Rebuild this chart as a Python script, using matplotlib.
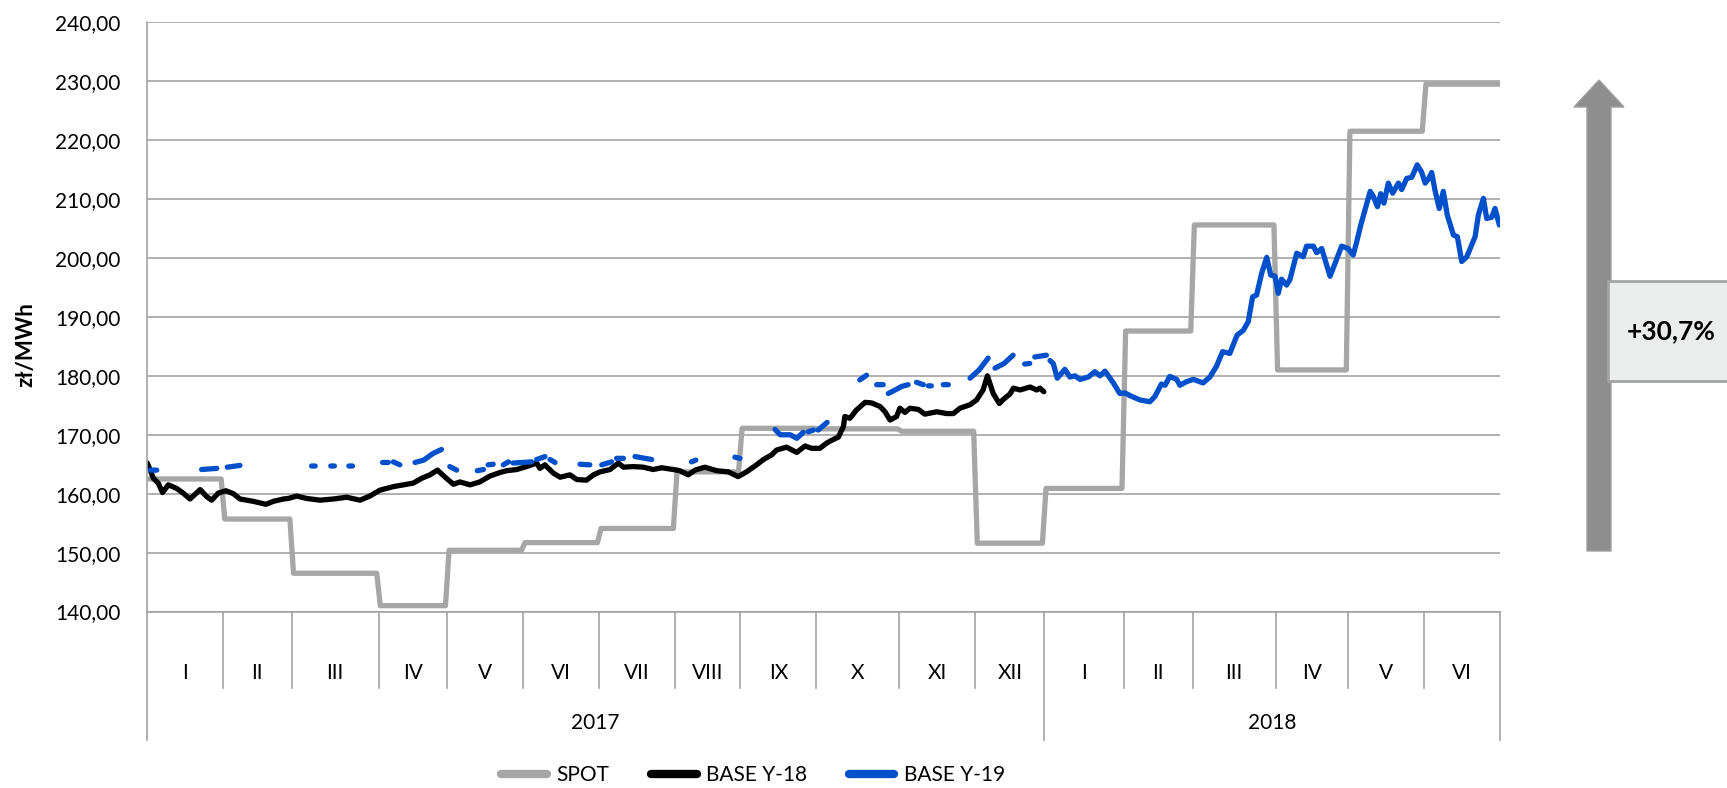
import matplotlib
matplotlib.use('Agg')
import matplotlib.pyplot as plt
import matplotlib.transforms as mtransforms
from matplotlib.patches import Polygon, Rectangle
from matplotlib.lines import Line2D
import numpy as np

plt.rcParams['font.family'] = ['Lato', 'DejaVu Sans']

# oś X: miesiące (dni notowań w miesiącu)
month_labels = ['I', 'II', 'III', 'IV', 'V', 'VI', 'VII', 'VIII', 'IX', 'X', 'XI', 'XII',
                'I', 'II', 'III', 'IV', 'V', 'VI']
days_per_month = [21, 19, 24, 19, 21, 21, 21, 18, 21, 23, 21, 19, 22, 19, 23, 20, 21, 21]
years = ['2017', '2018']
months_per_year = [12, 6]

# SPOT - średnia miesięczna
spot_monthly = [162.5, 155.7, 146.5, 141.0, 150.4, 151.7, 154.1, 163.7, 171.1, 171.0,
                170.6, 151.6, 160.9, 187.6, 205.6, 181.0, 221.5, 229.5]

# BASE Y-18 (dzień notowań, cena)
y18_x = [0.1, 1.8, 3.1, 4.3, 5.9, 8.2, 10.0, 11.9, 14.7, 16.5, 17.9, 19.7, 21.8, 23.9, 25.7,
         29.4, 32.9, 34.9, 37.7, 39.1, 41.4, 44.1, 47.8, 51.5, 55.2, 58.9, 61.6, 64.4, 68.1,
         70.9, 73.6, 75.9, 78.2, 80.3, 82.4, 84.7, 86.5, 89.3, 92.0, 94.8, 97.6, 99.4, 102.2,
         104.9, 107.7, 108.6, 110.0, 112.3, 114.2, 116.9, 118.8, 121.5, 123.4, 125.2, 128.0,
         130.3, 131.7, 134.4, 137.2, 139.9, 142.3, 145.5, 147.3, 149.6, 151.5, 154.2, 157.5,
         160.7, 163.4, 165.7, 168.5, 170.4, 172.7, 174.0, 176.8, 179.6, 181.9, 183.7, 186.0,
         187.9, 189.7, 191.1, 192.5, 192.9, 194.3, 196.1, 198.5, 200.3, 202.6, 204.0, 205.4,
         207.2, 208.1, 209.5, 210.9, 213.2, 215.0, 218.3, 221.0, 222.9, 224.7, 227.5, 229.3,
         231.1, 232.3, 233.9, 235.6, 236.7, 238.5, 239.5, 241.3, 244.1, 245.9, 246.8, 247.9]
y18_v = [165.2, 162.6, 161.8, 160.2, 161.5, 160.9, 160.1, 159.1, 160.7, 159.5, 158.9, 160.1,
         160.5, 160.0, 159.1, 158.7, 158.2, 158.7, 159.1, 159.2, 159.6, 159.2, 158.9, 159.1,
         159.4, 158.9, 159.6, 160.6, 161.2, 161.5, 161.8, 162.6, 163.2, 164.0, 162.8, 161.6,
         162.0, 161.5, 162.0, 163.0, 163.6, 163.9, 164.1, 164.6, 165.2, 164.3, 164.9, 163.5,
         162.8, 163.2, 162.4, 162.3, 163.2, 163.7, 164.1, 165.2, 164.5, 164.6, 164.5, 164.1,
         164.4, 164.1, 163.9, 163.2, 164.0, 164.5, 163.9, 163.7, 162.9, 163.7, 164.9, 165.8,
         166.6, 167.4, 167.9, 167.0, 168.1, 167.7, 167.7, 168.6, 169.2, 169.6, 171.4, 173.1,
         172.8, 174.2, 175.5, 175.4, 174.8, 173.9, 172.5, 173.1, 174.5, 173.8, 174.5, 174.3,
         173.5, 173.9, 173.6, 173.6, 174.5, 175.1, 175.9, 177.6, 180.0, 177.0, 175.3, 176.0,
         176.9, 177.9, 177.6, 178.1, 177.6, 177.9, 177.3]

# BASE Y-19 w 2017 - notowania z przerwami (nan = brak notowań)
nan = np.nan
y19_2017_x = [0.9, 2.7, nan, 15.1, 19.3, nan, 22.2, 25.7, nan, 45.5, 46.5, nan, 50.8, 51.8, nan,
              55.8, 56.8, nan, 65.1, 66.7, nan, 68.1, 69.9, nan, 74.1, 76.5, 79.0, 81.4, nan,
              83.7, 85.6, nan, 91.3, 93.0, nan, 94.3, 95.7, nan, 98.5, 99.9, nan, 101.2, 106.3,
              nan, 107.7, 110.0, nan, 111.4, 112.8, nan, 119.7, 122.4, nan, 125.7, 128.4, nan,
              129.8, 131.7, nan, 134.9, 139.5, nan, 150.5, 151.7, nan, 162.5, 163.9, nan, 173.6,
              175.0, 177.8, 179.6, 181.4, nan, 182.8, 184.2, nan, 185.5, 188.0, nan, 197.0, 198.9,
              nan, 201.7, 203.5, nan, 204.9, 206.8, 208.6, 210.4, nan, 212.7, 214.6, nan, 216.0,
              216.8, nan, 220.1, 221.5, nan, 227.5, 230.0, 232.5, nan, 234.4, 236.9, 239.4, nan,
              242.6, 244.0, nan, 245.4, 248.6]
y19_2017_v = [164.0, 164.0, nan, 164.1, 164.3, nan, 164.5, 164.8, nan, 164.7, 164.7, nan, 164.7,
              164.7, nan, 164.7, 164.7, nan, 165.3, 165.3, nan, 165.4, 164.9, nan, 165.3, 165.7,
              166.8, 167.5, nan, 164.6, 164.0, nan, 163.9, 164.1, nan, 164.9, 165.0, nan, 164.9,
              165.4, nan, 165.2, 165.4, nan, 165.8, 166.3, nan, 165.8, 165.3, nan, 165.0, 164.9,
              nan, 164.9, 165.4, nan, 166.0, 166.0, nan, 166.3, 165.8, nan, 165.4, 165.7, nan,
              166.2, 166.0, nan, 170.9, 170.0, 170.0, 169.4, 170.4, nan, 170.5, 170.8, nan, 170.8,
              172.1, nan, 179.3, 180.1, nan, 178.5, 178.5, nan, 177.0, 177.6, 178.2, 178.5, nan,
              178.9, 178.5, nan, 178.3, 178.3, nan, 178.5, 178.5, nan, 179.6, 181.0, 183.0, nan,
              181.3, 182.1, 183.5, nan, 182.0, 182.1, nan, 183.2, 183.5]

# BASE Y-19 w 2018 - notowania ciągłe
y19_2018_x = [249.6, 250.5, 251.6, 253.7, 255.1, 256.5, 257.9, 260.2, 262.0, 263.4, 264.8, 267.1,
              268.9, 270.3, 272.2, 274.5, 277.2, 278.6, 280.4, 281.4, 282.7, 284.6, 285.5, 287.3,
              289.2, 291.9, 293.8, 295.6, 297.3, 299.3, 301.3, 303.0, 304.4, 305.6, 306.7, 308.1,
              309.5, 310.6, 311.8, 312.7, 313.6, 315.0, 315.9, 317.8, 319.6, 320.5, 322.4, 323.3,
              324.7, 327.0, 328.4, 330.2, 332.0, 333.4, 334.4, 335.5, 338.1, 339.0, 340.1, 341.0,
              341.9, 343.1, 344.3, 345.9, 346.8, 348.2, 349.6, 351.1, 352.3, 353.3, 354.2, 355.1,
              356.0, 357.2, 358.3, 359.4, 361.1, 362.2, 363.4, 364.8, 367.1, 368.0, 369.4, 370.3,
              371.7, 372.6, 373.8]
y19_2018_v = [182.6, 182.1, 179.6, 181.1, 179.8, 180.0, 179.4, 179.8, 180.7, 180.0, 180.8, 178.8,
              177.0, 177.1, 176.5, 175.9, 175.6, 176.5, 178.6, 178.4, 179.9, 179.4, 178.4, 179.0,
              179.4, 178.8, 179.8, 181.6, 184.1, 183.8, 186.9, 187.7, 189.2, 193.4, 193.7, 197.4,
              200.1, 197.1, 196.9, 194.0, 196.4, 195.4, 196.3, 200.8, 200.2, 202.0, 202.0, 200.9,
              201.6, 196.9, 199.1, 202.0, 201.6, 200.5, 202.8, 205.6, 211.3, 210.4, 208.7, 210.9,
              209.3, 212.7, 211.0, 212.7, 211.6, 213.5, 213.7, 215.8, 214.6, 212.7, 213.4, 214.5,
              211.5, 208.4, 211.3, 207.3, 203.9, 203.6, 199.4, 200.2, 203.6, 207.3, 210.1, 206.7,
              206.9, 208.4, 205.6]

change_label = '+30,7%'

gray = '#A6A6A6'
grid_col = '#A3A3A3'
blue = '#0050CC'

fig = plt.figure(figsize=(17.27, 7.88), dpi=100)
ax = fig.add_axes([0.0851, 0.2239, 0.7835, 0.7479])

n_days = sum(days_per_month)
bounds = np.concatenate([[0], np.cumsum(days_per_month)])
spot_x = np.arange(n_days) + 0.5
spot_v = np.repeat(spot_monthly, days_per_month)

line_kw = dict(solid_capstyle='round', solid_joinstyle='round')
ax.plot(spot_x, spot_v, color=gray, lw=3.8, **line_kw)
ax.plot(y18_x, y18_v, color='black', lw=3.8, **line_kw)
ax.plot(y19_2017_x, y19_2017_v, color=blue, lw=3.8, **line_kw)
ax.plot(y19_2018_x, y19_2018_v, color=blue, lw=3.8, **line_kw)

ax.set_xlim(0, n_days)
ax.set_ylim(140, 240)
yt = list(range(140, 241, 10))
ax.set_yticks(yt)
ax.set_yticklabels([f'{v},00' for v in yt], fontsize=15)
ax.tick_params(axis='y', length=0, pad=19)
ax.set_xticks([])
ax.yaxis.grid(True, color=grid_col, lw=1.2)
ax.set_axisbelow(True)
for s in ['top', 'right']:
    ax.spines[s].set_visible(False)
ax.spines['left'].set_color(grid_col)
ax.spines['left'].set_linewidth(1.2)
ax.spines['bottom'].set_color(grid_col)
ax.spines['bottom'].set_linewidth(1.2)

# podział osi X na miesiące i lata
trans = mtransforms.blended_transform_factory(ax.transData, ax.transAxes)
year_bounds = [0]
for m in months_per_year:
    year_bounds.append(year_bounds[-1] + m)
for i, b in enumerate(bounds):
    low = -0.2172 if i in year_bounds else -0.1296
    ax.plot([b, b], [0, low], transform=trans, color=grid_col, lw=1.2, clip_on=False)
for i, lab in enumerate(month_labels):
    ax.text((bounds[i] + bounds[i + 1]) / 2, -0.104, lab, transform=trans,
            ha='center', va='center', fontsize=15)
for i, lab in enumerate(years):
    x0, x1 = bounds[year_bounds[i]], bounds[year_bounds[i + 1]]
    ax.text((x0 + x1) / 2, -0.189, lab, transform=trans, ha='center', va='center', fontsize=15)

fig.text(0.015, 1 - 345 / 788, 'zł/MWh', rotation=90, ha='center', va='center',
         fontsize=16, fontweight='bold')

handles = [Line2D([], [], color=gray, lw=6, solid_capstyle='round'),
           Line2D([], [], color='black', lw=6, solid_capstyle='round'),
           Line2D([], [], color=blue, lw=6, solid_capstyle='round')]
fig.legend(handles, ['SPOT', 'BASE Y-18', 'BASE Y-19'], loc='center',
           bbox_to_anchor=(0.436, 0.0165), ncol=3, frameon=False, fontsize=15,
           handlelength=2.2, handletextpad=0.45, columnspacing=2.0)

# strzałka wzrostu i ramka z opisem
ov = fig.add_axes([0, 0, 1, 1])
ov.set_xlim(0, 1727)
ov.set_ylim(788, 0)
ov.axis('off')
ov.add_patch(Polygon([[1587, 551], [1587, 107], [1574, 107], [1599, 80], [1624, 107],
                      [1611, 107], [1611, 551]], closed=True, fc='#8E8E8E', ec='#A0A0A0', lw=1))
ov.add_patch(Rectangle((1608, 281), 130, 100, fc='#EBEDED', ec='#A3A3A3', lw=2))
ov.text(1671, 331, change_label, ha='center', va='center', fontsize=19, fontweight='bold')

fig.savefig('out.png', dpi=100)
